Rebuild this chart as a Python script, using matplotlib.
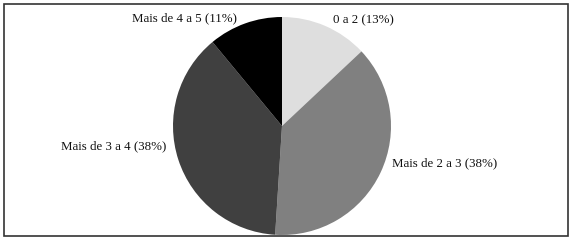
import matplotlib
matplotlib.use("Agg")
import matplotlib.pyplot as plt
from matplotlib.patches import Rectangle

categories = ["0 a 2", "Mais de 2 a 3", "Mais de 3 a 4", "Mais de 4 a 5"]
percents = [13, 38, 38, 11]
colors = ["#dedede", "#808080", "#404040", "#000000"]
# label positions in pie units (radius = 1)
label_pos = [(0.75, 0.97), (1.49, -0.34), (-1.54, -0.19), (-0.89, 0.99)]

plt.rcParams['font.family'] = ['Liberation Serif', 'DejaVu Serif']

W, H = 572, 241
fig = plt.figure(figsize=(W / 100, H / 100), dpi=100)
fig.patch.set_facecolor("white")

cx, cy, r = 282, 126, 109
ax = fig.add_axes([(cx - r) / W, (H - cy - r) / H, 2 * r / W, 2 * r / H])
ax.pie(percents, colors=colors, startangle=90, counterclock=False,
       radius=1, wedgeprops=dict(linewidth=0))
ax.set_xlim(-1, 1)
ax.set_ylim(-1, 1)
ax.set_aspect("equal")
ax.axis("off")

for cat, p, (x, y) in zip(categories, percents, label_pos):
    ax.text(x, y, f"{cat} ({p}%)", ha="center", va="center",
            fontsize=9.3, color="#111111", clip_on=False)

left, top, right, bottom = 3.5, 3.5, 567.5, 236
fig.add_artist(Rectangle((left / W, (H - bottom) / H), (right - left) / W,
                         (bottom - top) / H,
                         transform=fig.transFigure, fill=False,
                         edgecolor="#333333", linewidth=1.2))

fig.savefig("out.png", dpi=100)
